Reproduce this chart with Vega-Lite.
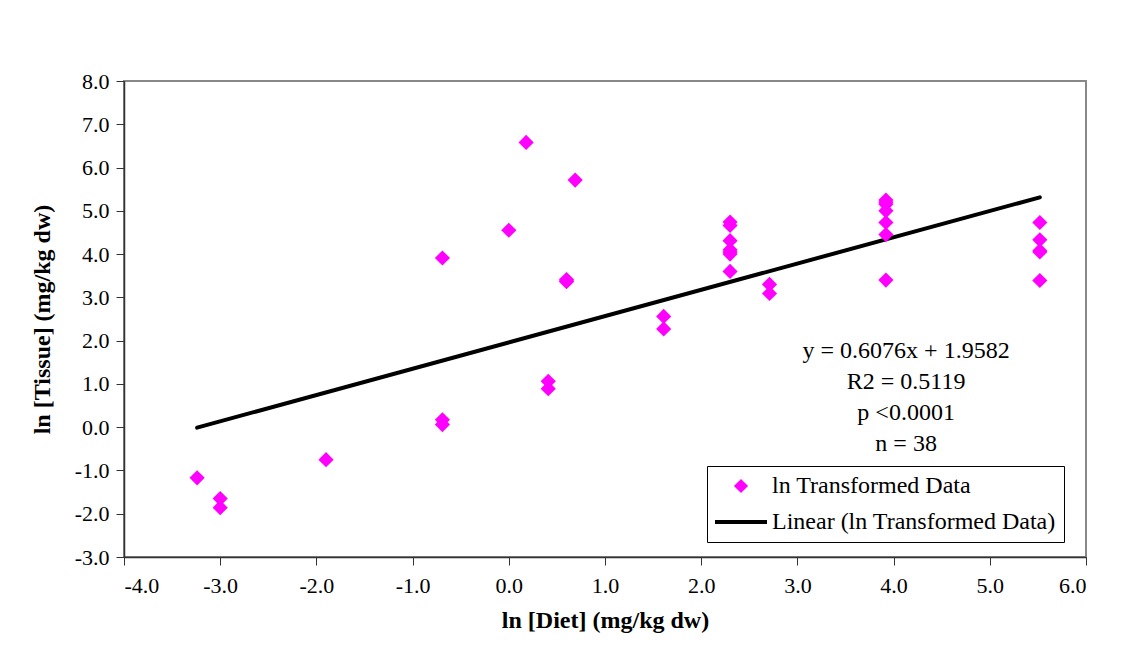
{
  "$schema": "https://vega.github.io/schema/vega-lite/v6.json",
  "autosize": "none",
  "width": 962,
  "height": 476,
  "padding": {"left": 124, "top": 81, "right": 52, "bottom": 97},
  "background": "white",
  "config": {
    "font": "Liberation Serif",
    "view": {"stroke": "#888888", "strokeWidth": 2},
    "axis": {
      "grid": false,
      "domainColor": "#333333",
      "domainWidth": 1.5,
      "tickColor": "#333333",
      "tickSize": 8,
      "labelFont": "Liberation Serif",
      "labelFontSize": 22,
      "labelColor": "#000000",
      "titleFont": "Liberation Serif",
      "titleFontSize": 24,
      "titleFontWeight": "bold",
      "titleColor": "#000000"
    },
    "legend": {
      "labelFont": "Liberation Serif",
      "labelFontSize": 24,
      "labelColor": "#000000",
      "labelLimit": 400
    }
  },
  "datasets": {
    "points": [
      {"diet": -3.24, "tissue": -1.17, "series": "ln Transformed Data"},
      {"diet": -3.0, "tissue": -1.65, "series": "ln Transformed Data"},
      {"diet": -3.0, "tissue": -1.86, "series": "ln Transformed Data"},
      {"diet": -1.9, "tissue": -0.75, "series": "ln Transformed Data"},
      {"diet": -0.69, "tissue": 3.91, "series": "ln Transformed Data"},
      {"diet": -0.69, "tissue": 0.17, "series": "ln Transformed Data"},
      {"diet": -0.69, "tissue": 0.06, "series": "ln Transformed Data"},
      {"diet": 0.0, "tissue": 4.55, "series": "ln Transformed Data"},
      {"diet": 0.18, "tissue": 6.58, "series": "ln Transformed Data"},
      {"diet": 0.69, "tissue": 5.71, "series": "ln Transformed Data"},
      {"diet": 0.6, "tissue": 3.41, "series": "ln Transformed Data"},
      {"diet": 0.6, "tissue": 3.36, "series": "ln Transformed Data"},
      {"diet": 0.6, "tissue": 3.38, "series": "ln Transformed Data"},
      {"diet": 0.41, "tissue": 1.06, "series": "ln Transformed Data"},
      {"diet": 0.41, "tissue": 0.89, "series": "ln Transformed Data"},
      {"diet": 1.61, "tissue": 2.56, "series": "ln Transformed Data"},
      {"diet": 1.61, "tissue": 2.27, "series": "ln Transformed Data"},
      {"diet": 2.3, "tissue": 4.74, "series": "ln Transformed Data"},
      {"diet": 2.3, "tissue": 4.66, "series": "ln Transformed Data"},
      {"diet": 2.3, "tissue": 4.31, "series": "ln Transformed Data"},
      {"diet": 2.3, "tissue": 4.1, "series": "ln Transformed Data"},
      {"diet": 2.3, "tissue": 4.05, "series": "ln Transformed Data"},
      {"diet": 2.3, "tissue": 4.0, "series": "ln Transformed Data"},
      {"diet": 2.3, "tissue": 3.6, "series": "ln Transformed Data"},
      {"diet": 2.71, "tissue": 3.3, "series": "ln Transformed Data"},
      {"diet": 2.71, "tissue": 3.09, "series": "ln Transformed Data"},
      {"diet": 3.92, "tissue": 5.25, "series": "ln Transformed Data"},
      {"diet": 3.92, "tissue": 5.2, "series": "ln Transformed Data"},
      {"diet": 3.92, "tissue": 5.15, "series": "ln Transformed Data"},
      {"diet": 3.92, "tissue": 5.0, "series": "ln Transformed Data"},
      {"diet": 3.92, "tissue": 4.73, "series": "ln Transformed Data"},
      {"diet": 3.92, "tissue": 4.45, "series": "ln Transformed Data"},
      {"diet": 3.92, "tissue": 3.4, "series": "ln Transformed Data"},
      {"diet": 5.52, "tissue": 4.73, "series": "ln Transformed Data"},
      {"diet": 5.52, "tissue": 4.33, "series": "ln Transformed Data"},
      {"diet": 5.52, "tissue": 4.08, "series": "ln Transformed Data"},
      {"diet": 5.52, "tissue": 4.05, "series": "ln Transformed Data"},
      {"diet": 5.52, "tissue": 3.39, "series": "ln Transformed Data"}
    ],
    "fit": [
      {"diet": -3.24, "tissue": -0.0104, "series": "Linear (ln Transformed Data)"},
      {"diet": 5.52, "tissue": 5.3122, "series": "Linear (ln Transformed Data)"}
    ],
    "note": [
      {"label": "regression"}
    ]
  },
  "layer": [
    {
      "data": {"name": "fit"},
      "mark": {"type": "line", "strokeWidth": 4, "strokeCap": "round"},
      "encoding": {
        "x": {
          "field": "diet",
          "type": "quantitative",
          "scale": {"domain": [-4, 6], "nice": false, "zero": false},
          "axis": {
            "title": "ln [Diet] (mg/kg dw)",
            "values": [-4, -3, -2, -1, 0, 1, 2, 3, 4, 5, 6],
            "labelExpr": "replace(format(datum.value, '.1f'), '\u2212', '-')",
            "labelFont": "Liberation Serif",
            "labelFontSize": 22,
            "labelPadding": 10,
            "titlePadding": 12,
            "encode": {"labels": {"update": {"font": {"value": "Liberation Serif"}, "fontSize": {"value": 22}}}}
          }
        },
        "y": {
          "field": "tissue",
          "type": "quantitative",
          "scale": {"domain": [-3, 8], "nice": false, "zero": false},
          "axis": {
            "title": "ln [Tissue] (mg/kg dw)",
            "values": [-3, -2, -1, 0, 1, 2, 3, 4, 5, 6, 7, 8],
            "labelExpr": "replace(format(datum.value, '.1f'), '\u2212', '-')",
            "labelFont": "Liberation Serif",
            "labelFontSize": 22,
            "labelPadding": 7,
            "titlePadding": 20,
            "encode": {"labels": {"update": {"font": {"value": "Liberation Serif"}, "fontSize": {"value": 22}}}}
          }
        },
        "color": {
          "field": "series",
          "type": "nominal",
          "scale": {
            "domain": ["ln Transformed Data", "Linear (ln Transformed Data)"],
            "range": ["#FF00FF", "#000000"]
          },
          "legend": {
            "orient": "none",
            "legendX": 583,
            "legendY": 385,
            "title": null,
            "strokeColor": "#000000",
            "fillColor": "#ffffff",
            "padding": 8,
            "symbolSize": 225,
            "labelOffset": 5,
            "rowPadding": 12,
            "labelFont": "Liberation Serif",
            "labelFontSize": 24,
            "encode": {
              "symbols": {
                "update": {
                  "x": {"value": 26},
                  "shape": {"signal": "datum.value === 'ln Transformed Data' ? 'diamond' : 'stroke'"},
                  "size": {"signal": "datum.value === 'ln Transformed Data' ? 200 : 2704"},
                  "strokeWidth": {"signal": "datum.value === 'ln Transformed Data' ? 0 : 4"},
                  "fill": {"signal": "datum.value === 'ln Transformed Data' ? '#FF00FF' : 'transparent'"},
                  "stroke": {"value": "#000000"},
                  "opacity": {"value": 1}
                }
              },
              "labels": {
                "update": {
                  "x": {"value": 57}
                }
              }
            }
          }
        }
      }
    },
    {
      "data": {"name": "points"},
      "mark": {"type": "point", "shape": "diamond", "filled": true, "size": 230, "opacity": 1},
      "encoding": {
        "x": {"field": "diet", "type": "quantitative"},
        "y": {"field": "tissue", "type": "quantitative"},
        "color": {"field": "series", "type": "nominal"}
      }
    },
    {
      "data": {"name": "note"},
      "mark": {
        "type": "text",
        "text": ["y = 0.6076x + 1.9582", "R2 = 0.5119", "p <0.0001", "n = 38"],
        "font": "Liberation Serif",
        "fontSize": 24,
        "lineHeight": 31,
        "align": "center",
        "baseline": "top",
        "color": "#000000"
      },
      "encoding": {
        "x": {"datum": 4.13},
        "y": {"datum": 2.03}
      }
    }
  ]
}
